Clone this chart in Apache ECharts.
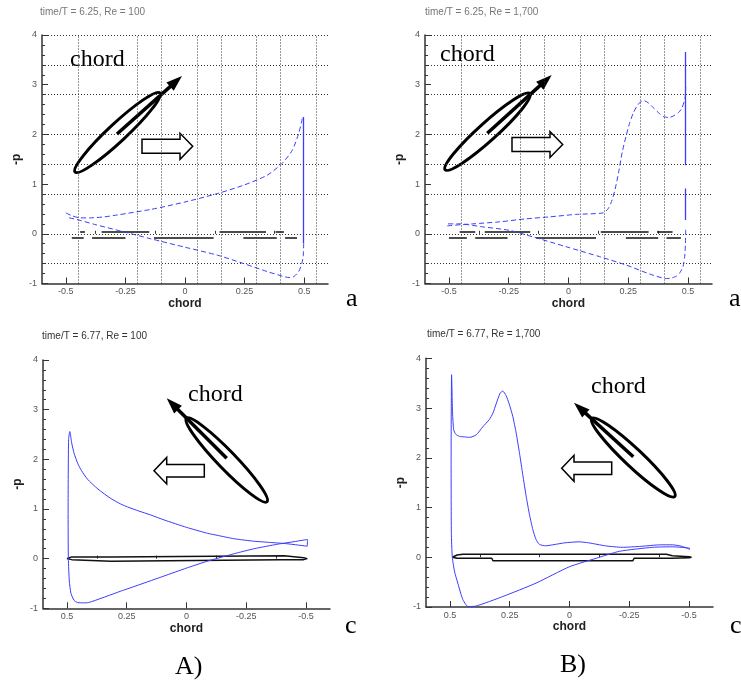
<!DOCTYPE html>
<html><head><meta charset="utf-8">
<script src="https://cdn.jsdelivr.net/npm/echarts@6/dist/echarts.min.js"></script>
<style>html,body{margin:0;padding:0;background:#fff}#c{width:741px;height:683px}</style>
</head><body><div id="c"></div>
<script>
// ---------- data ----------
const titles = ['time/T = 6.25, Re = 100', 'time/T = 6.25, Re = 1,700', 'time/T = 6.77, Re = 100', 'time/T = 6.77, Re = 1,700'];
const panelTags = ['a', 'a', 'c', 'c'];
const caseLabels = ['A)', 'B)'];
const xTickValues = [-0.5, -0.25, 0, 0.25, 0.5];
const xMinorTickValues = [-0.375, -0.125, 0.125, 0.375];
const gridLinesX = [-0.45, -0.2, -0.1, 0.05, 0.15, 0.3, 0.4, 0.55];
const gridLinesY = [4, 3.4, 2.8, 2, 1.4, 0.8, 0, -0.6];

// top-left: time/T = 6.25, Re = 100
const tlSuction = [[-0.5,0.42],[-0.472,0.36],[-0.44,0.32],[-0.4,0.32],[-0.34,0.34],[-0.283,0.38],[-0.144,0.49],[0,0.64],[0.136,0.81],[0.247,0.98],[0.345,1.18],[0.408,1.42],[0.45,1.68],[0.477,2.02],[0.492,2.32]];
const tlEdge = [[[0.498,2.35],[0.498,-0.19]]];
const tlPressure = [[0.498,-0.19],[0.496,-0.45],[0.49,-0.6],[0.477,-0.76],[0.457,-0.86],[0.44,-0.88],[0.422,-0.87],[0.345,-0.76],[0.247,-0.6],[0.136,-0.43],[0,-0.27],[-0.144,-0.1],[-0.257,0.04],[-0.38,0.19],[-0.44,0.27],[-0.493,0.33]];
const tlAirfoil = [[-0.44,-0.42,0.05],[-0.35,-0.15,0.05],[0.145,0.34,0.05],[0.38,0.415,0.05],[-0.475,-0.425,-0.07],[-0.39,-0.25,-0.07],[-0.13,0.12,-0.07],[0.245,0.385,-0.07],[0.42,0.47,-0.07]];

// top-right: time/T = 6.25, Re = 1,700
const trSuction = [[-0.507,0.16],[-0.46,0.18],[-0.4,0.2],[-0.29,0.24],[-0.18,0.3],[-0.08,0.34],[0.03,0.39],[0.144,0.42],[0.165,0.5],[0.18,0.65],[0.195,0.9],[0.21,1.25],[0.225,1.65],[0.24,1.95],[0.255,2.22],[0.27,2.42],[0.285,2.56],[0.3,2.65],[0.315,2.68],[0.335,2.63],[0.354,2.54],[0.38,2.42],[0.396,2.36],[0.42,2.34],[0.438,2.37],[0.46,2.44],[0.473,2.52],[0.487,2.72],[0.49,2.96]];
const trEdge = [[[0.49,3.66],[0.49,1.38]],[[0.49,0.91],[0.49,0.28]]];
const trPressure = [[0.49,0.08],[0.489,-0.19],[0.486,-0.45],[0.479,-0.66],[0.466,-0.78],[0.452,-0.85],[0.43,-0.89],[0.41,-0.9],[0.34,-0.81],[0.242,-0.63],[0.13,-0.46],[-0.01,-0.26],[-0.15,-0.06],[-0.248,0.07],[-0.36,0.14],[-0.458,0.2],[-0.507,0.2]];
const trAirfoil = [[-0.455,-0.39,0.05],[-0.35,-0.16,0.05],[0.135,0.335,0.05],[0.37,0.435,0.05],[-0.5,-0.425,-0.07],[-0.39,-0.255,-0.07],[-0.135,0.115,-0.07],[0.24,0.375,-0.07],[0.41,0.47,-0.07]];

// bottom-left: time/T = 6.77, Re = 100 (closed loop)
const blLoop = [[-0.505,0.25],[-0.42,0.30],[-0.34,0.33],[-0.283,0.35],[-0.2,0.40],[-0.128,0.47],[-0.088,0.51],[0,0.63],[0.094,0.78],[0.15,0.88],[0.2,0.96],[0.246,1.04],[0.275,1.1],[0.316,1.21],[0.37,1.40],[0.414,1.6],[0.44,1.78],[0.455,1.92],[0.47,2.12],[0.48,2.33],[0.488,2.56],[0.493,2.4],[0.495,1.0],[0.494,0],[0.49,-0.45],[0.483,-0.7],[0.47,-0.84],[0.455,-0.885],[0.43,-0.89],[0.41,-0.885],[0.275,-0.655],[0.2,-0.53],[0.094,-0.35],[0,-0.19],[-0.088,-0.05],[-0.2,0.1],[-0.283,0.2],[-0.38,0.29],[-0.42,0.32],[-0.506,0.385],[-0.505,0.25]];
const blAirfoil = [[0.5,0],[0.48,0.035],[0.316,0.035],[0.31,0.06],[-0.408,0.06],[-0.415,0.035],[-0.49,0.02],[-0.505,0],[-0.49,-0.02],[-0.394,-0.02],[-0.39,-0.055],[0.316,-0.055],[0.32,-0.02],[0.48,-0.02],[0.5,0]];

// bottom-right: time/T = 6.77, Re = 1,700 (closed loop)
const brLoop = [[-0.502,0.16],[-0.47,0.22],[-0.43,0.25],[-0.38,0.25],[-0.3,0.22],[-0.22,0.2],[-0.15,0.23],[-0.08,0.29],[-0.04,0.31],[0.02,0.29],[0.07,0.25],[0.1,0.23],[0.126,0.26],[0.14,0.36],[0.153,0.55],[0.167,0.85],[0.181,1.22],[0.195,1.65],[0.209,2.09],[0.223,2.5],[0.237,2.83],[0.252,3.08],[0.265,3.25],[0.279,3.34],[0.29,3.3],[0.307,3.08],[0.32,2.9],[0.335,2.77],[0.363,2.62],[0.39,2.46],[0.418,2.41],[0.44,2.42],[0.46,2.43],[0.475,2.47],[0.484,2.56],[0.489,2.9],[0.493,3.67],[0.495,2.0],[0.494,0.5],[0.49,0],[0.48,-0.3],[0.467,-0.52],[0.455,-0.72],[0.446,-0.85],[0.435,-0.94],[0.425,-0.99],[0.39,-0.98],[0.279,-0.79],[0.14,-0.52],[0,-0.19],[-0.112,-0.02],[-0.209,0.12],[-0.348,0.2],[-0.43,0.21],[-0.502,0.18],[-0.502,0.16]];
const brAirfoil = [[0.49,0],[0.47,0.045],[0.446,0.06],[-0.405,0.06],[-0.43,0.03],[-0.5,0.01],[-0.51,0],[-0.5,-0.01],[-0.43,-0.02],[-0.27,-0.02],[-0.265,-0.07],[0.32,-0.07],[0.325,-0.02],[0.47,-0.02],[0.49,0]];

// ---------- layout / style ----------
const BLUE = '#3c3cff';
const SANS = '"Liberation Sans", Arial, sans-serif';
const SERIF = '"Liberation Serif", "Times New Roman", serif';
const grids = [
  {left: 42, top: 35, width: 286, height: 248.5},
  {left: 425, top: 35, width: 287, height: 248.5},
  {left: 43, top: 360, width: 287, height: 248.3},
  {left: 426, top: 358.3, width: 287, height: 248.7}
];

const xAxes = [], yAxes = [], series = [];
grids.forEach((g, i) => {
  const inv = i >= 2;
  xAxes.push({
    gridIndex: i, type: 'value', min: -0.6, max: 0.6, inverse: inv,
    name: 'chord', nameLocation: 'middle', nameGap: 11,
    nameTextStyle: {fontFamily: SANS, fontWeight: 'bold', fontSize: 12, color: '#222'},
    axisLine: {onZero: false, lineStyle: {color: '#333', width: 1.5}},
    axisTick: {customValues: xTickValues, inside: true, length: 6, lineStyle: {color: '#333'}},
    axisLabel: {customValues: xTickValues, fontFamily: SANS, fontSize: 9, color: '#555', margin: 4, formatter: v => String(v)},
    splitLine: {show: false}
  });
  xAxes.push({
    gridIndex: i, type: 'value', min: -0.6, max: 0.6, inverse: inv, position: 'bottom',
    axisLine: {show: false}, axisLabel: {show: false},
    axisTick: {customValues: xMinorTickValues, inside: true, length: 3, lineStyle: {color: '#333'}},
    splitLine: {show: false}
  });
  yAxes.push({
    gridIndex: i, type: 'value', min: -1, max: 4, interval: 1,
    name: '-p', nameLocation: 'middle', nameGap: 19, nameRotate: 90,
    nameTextStyle: {fontFamily: SANS, fontWeight: 'bold', fontSize: 12, color: '#222'},
    axisLine: {show: true, onZero: false, lineStyle: {color: '#333', width: 1.5}},
    axisTick: {show: true, inside: true, length: 6, lineStyle: {color: '#333'}},
    minorTick: {show: true, splitNumber: 5, length: 3, lineStyle: {color: '#333'}},
    axisLabel: {fontFamily: SANS, fontSize: 9, color: '#555', margin: 5},
    splitLine: {show: false}
  });
});

function lineSeries(i, data, dashed, extra) {
  return Object.assign({
    type: 'line', xAxisIndex: 2 * i, yAxisIndex: i, data: data,
    showSymbol: false, smooth: 0.25, silent: true,
    lineStyle: {color: BLUE, width: 1, type: dashed ? [5, 3] : 'solid'}
  }, extra || {});
}
function segSeries(i, segs, color, width) {
  return {
    type: 'lines', coordinateSystem: 'cartesian2d', xAxisIndex: 2 * i, yAxisIndex: i, silent: true,
    data: segs.map(s => ({coords: s})),
    lineStyle: {color: color, width: width, opacity: 1}
  };
}
const gridMarkLine = {
  silent: true, symbol: 'none', label: {show: false},
  lineStyle: {color: '#333', type: [1, 2], width: 1},
  data: gridLinesX.map(v => ({xAxis: v})).concat(gridLinesY.map(v => ({yAxis: v})))
};

// top panels
[[tlSuction, tlEdge, tlPressure, tlAirfoil], [trSuction, trEdge, trPressure, trAirfoil]].forEach((p, i) => {
  series.push(segSeries(i, p[3].map(a => [[a[0], a[2]], [a[1], a[2]]]), '#111', 1.5));
  series.push(lineSeries(i, p[0], true, {markLine: gridMarkLine}));
  series.push(segSeries(i, p[1], BLUE, 1.3));
  series.push(lineSeries(i, p[2], true));
});
// bottom panels
[[blLoop, blAirfoil], [brLoop, brAirfoil]].forEach((p, k) => {
  const i = k + 2;
  series.push(lineSeries(i, p[1], false, {smooth: false, lineStyle: {color: '#111', width: 1.5}}));
  series.push(lineSeries(i, p[0], false, {smooth: 0.2}));
});

// ---------- annotation drawings ----------
const graphic = [];
function txt(x, y, s, font, color, align) {
  graphic.push({type: 'text', x: x, y: y, silent: true,
    style: {text: s, font: font, fill: color || '#000', textAlign: align || 'left', textVerticalAlign: 'middle'}});
}
function ellipse(cx, cy, rx, ry, rotDeg) {
  graphic.push({type: 'ellipse', x: cx, y: cy, rotation: rotDeg * Math.PI / 180, silent: true,
    shape: {cx: 0, cy: 0, rx: rx, ry: ry}, style: {fill: 'none', stroke: '#000', lineWidth: 3}});
}
function arrow(x1, y1, x2, y2, headLen, headW, lw) {
  const dx = x2 - x1, dy = y2 - y1, L = Math.hypot(dx, dy), ux = dx / L, uy = dy / L;
  const bx = x2 - ux * headLen, by = y2 - uy * headLen, px = -uy, py = ux;
  graphic.push({type: 'line', silent: true, shape: {x1: x1, y1: y1, x2: bx + ux * 2, y2: by + uy * 2}, style: {stroke: '#000', lineWidth: lw}});
  graphic.push({type: 'polygon', silent: true, shape: {points: [[x2, y2], [bx + px * headW / 2, by + py * headW / 2], [bx - px * headW / 2, by - py * headW / 2]]}, style: {fill: '#000'}});
}
function blockArrow(tipX, tipY, dir, bodyLen, headLen, bodyH, headH) {
  const hx = tipX - dir * headLen, tx = hx - dir * bodyLen;
  graphic.push({type: 'polygon', silent: true, shape: {points: [
    [tx, tipY - bodyH / 2], [hx, tipY - bodyH / 2], [hx, tipY - headH / 2], [tipX, tipY],
    [hx, tipY + headH / 2], [hx, tipY + bodyH / 2], [tx, tipY + bodyH / 2]]},
    style: {fill: '#fff', stroke: '#000', lineWidth: 1.5}});
}

// titles
txt(40, 12, titles[0], '10px ' + SANS, '#777');
txt(425, 12, titles[1], '10px ' + SANS, '#777');
txt(42, 336, titles[2], '10px ' + SANS, '#333');
txt(427, 334, titles[3], '10px ' + SANS, '#333');

// top-left sketch
ellipse(117.5, 132.5, 58, 9, 43);
arrow(117, 134, 182, 76, 16, 11, 3.5);
blockArrow(192.7, 146.3, 1, 38, 12.7, 14, 26);
txt(70, 60, 'chord', '24px ' + SERIF);
// top-right sketch
ellipse(487.5, 131.7, 57, 9, 42);
arrow(487.3, 133.3, 551.7, 75, 16, 11, 3.5);
blockArrow(562.7, 144.5, 1, 38, 12.7, 14, 26);
txt(440, 54.5, 'chord', '24px ' + SERIF);
// bottom-left sketch
ellipse(226.7, 460, 58, 9, -46);
arrow(226.7, 458.3, 166.7, 398.3, 16, 11, 3.5);
blockArrow(154, 470.7, -1, 37.6, 12.7, 12.5, 26.5);
txt(188, 394.5, 'chord', '24px ' + SERIF);
// bottom-right sketch
ellipse(633.3, 457.5, 57, 9, -43.3);
arrow(633.3, 456.7, 574, 402.7, 16, 11, 3.5);
blockArrow(561.7, 468.3, -1, 37.7, 12.3, 12.5, 26);
txt(591, 386.8, 'chord', '24px ' + SERIF);

// panel tags
txt(346, 299, panelTags[0], '26px ' + SERIF);
txt(729, 299, panelTags[1], '26px ' + SERIF);
txt(345, 626, panelTags[2], '26px ' + SERIF);
txt(730, 626, panelTags[3], '26px ' + SERIF);
txt(175, 667, caseLabels[0], '26px ' + SERIF);
txt(560, 665, caseLabels[1], '26px ' + SERIF);

const chart = echarts.init(document.getElementById('c'), null, {renderer: 'canvas'});
chart.setOption({
  animation: false,
  backgroundColor: '#fff',
  grid: grids.map(g => Object.assign({outerBoundsMode: 'none', containLabel: false}, g)),
  xAxis: xAxes,
  yAxis: yAxes,
  series: series,
  graphic: graphic
});
</script>
</body></html>
